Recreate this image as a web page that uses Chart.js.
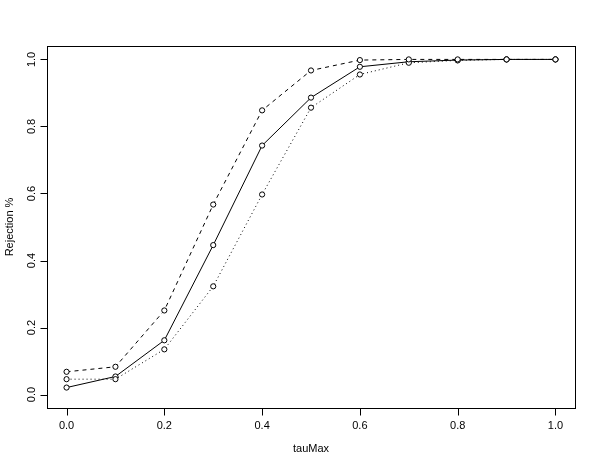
<!DOCTYPE html>
<html>
<head>
<meta charset="utf-8">
<script src="https://cdn.jsdelivr.net/npm/chart.js@4"></script>
<style>
  html, body { margin: 0; padding: 0; background: #fff; }
  #wrap { width: 599px; height: 465px; }
</style>
</head>
<body>
<div id="wrap"><canvas id="myChart" width="599" height="465"></canvas></div>
<script>
// valores
const tauMax = [0.0, 0.1, 0.2, 0.3, 0.4, 0.5, 0.6, 0.7, 0.8, 0.9, 1.0];
const solid = [0.021, 0.054, 0.162, 0.446, 0.743, 0.886, 0.978, 0.993, 0.998, 1.0, 1.0];
const dashed = [0.068, 0.083, 0.251, 0.567, 0.848, 0.967, 0.998, 1.0, 1.0, 1.0, 1.0];
const dotted = [0.046, 0.046, 0.135, 0.323, 0.597, 0.856, 0.955, 0.990, 0.997, 1.0, 1.0];
const xTicks = [0, 0.2, 0.4, 0.6, 0.8, 1.0];
const yTicks = [0, 0.2, 0.4, 0.6, 0.8, 1.0];

const pts = ys => tauMax.map((x, i) => ({ x: x, y: ys[i] }));

function serie(ys, dash) {
  return {
    data: pts(ys),
    borderColor: '#000',
    borderWidth: 1,
    borderDash: dash,
    pointRadius: 2.6,
    pointBorderWidth: 1,
    pointBorderColor: '#000',
    pointBackgroundColor: '#fff',
    tension: 0
  };
}

// ejes estilo R: caja, ticks y etiquetas
const rAxes = {
  id: 'rAxes',
  afterDraw(chart) {
    const c = chart.ctx, a = chart.chartArea;
    const sx = chart.scales.x, sy = chart.scales.y;
    const font = '11px "Liberation Sans", Arial, sans-serif';
    c.save();
    c.strokeStyle = '#000';
    c.lineWidth = 1;
    c.strokeRect(Math.round(a.left) + 0.5, Math.round(a.top) + 0.5,
      Math.round(a.right - a.left), Math.round(a.bottom - a.top));
    c.fillStyle = '#000';
    c.font = font;
    // eje x
    const by = Math.round(a.bottom) + 0.5;
    c.beginPath();
    xTicks.forEach(v => {
      const px = Math.round(sx.getPixelForValue(v)) + 0.5;
      c.moveTo(px, by); c.lineTo(px, by + 7);
    });
    c.stroke();
    c.textAlign = 'center';
    c.textBaseline = 'middle';
    xTicks.forEach(v => c.fillText(v.toFixed(1), sx.getPixelForValue(v), by + 17));
    c.fillText('tauMax', (a.left + a.right) / 2, by + 40);
    // eje y
    const bx = Math.round(a.left) + 0.5;
    c.beginPath();
    yTicks.forEach(v => {
      const py = Math.round(sy.getPixelForValue(v)) + 0.5;
      c.moveTo(bx, py); c.lineTo(bx - 7, py);
    });
    c.stroke();
    yTicks.forEach(v => {
      c.save();
      c.translate(bx - 16, sy.getPixelForValue(v));
      c.rotate(-Math.PI / 2);
      c.fillText(v.toFixed(1), 0, 0);
      c.restore();
    });
    c.save();
    c.translate(10, (a.top + a.bottom) / 2);
    c.rotate(-Math.PI / 2);
    c.fillText('Rejection %', 0, 0);
    c.restore();
    c.restore();
  }
};

const ctx = document.getElementById('myChart');
new Chart(ctx, {
  type: 'line',
  data: {
    datasets: [
      serie(dashed, [4, 4]),
      serie(dotted, [1, 3]),
      serie(solid, [])
    ]
  },
  options: {
    responsive: false,
    animation: false,
    layout: { padding: { left: 47, right: 24, top: 46, bottom: 57 } },
    plugins: { legend: { display: false }, tooltip: { enabled: false } },
    scales: {
      x: { type: 'linear', display: false, min: -0.04, max: 1.04 },
      y: { type: 'linear', display: false, min: -0.04, max: 1.04 }
    }
  },
  plugins: [rAxes]
});
</script>
</body>
</html>
